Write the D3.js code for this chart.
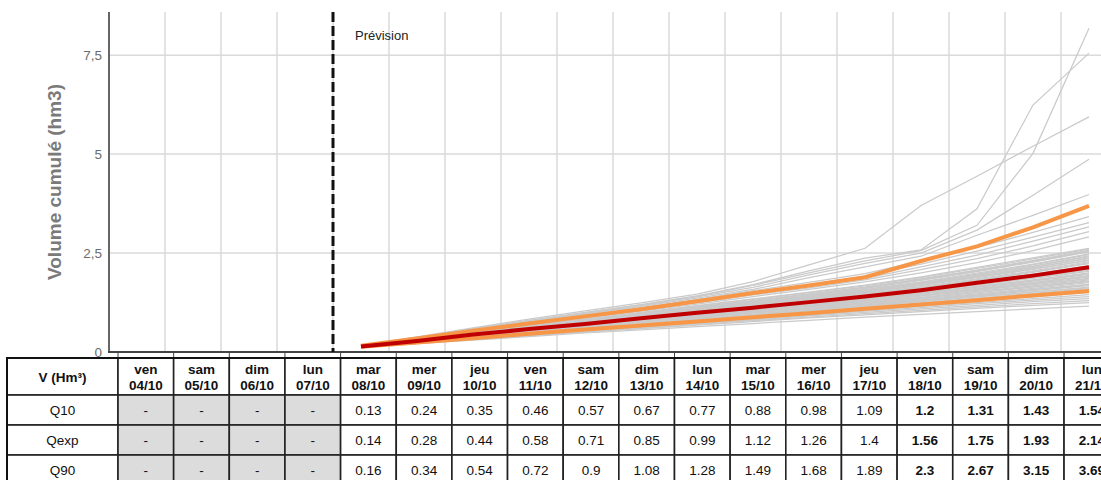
<!DOCTYPE html>
<html><head><meta charset="utf-8">
<script src="https://cdn.jsdelivr.net/npm/d3@7"></script>
<style>
html,body{margin:0;padding:0;background:#fff;overflow:hidden;}
svg{display:block;font-family:"Liberation Sans",Arial,sans-serif;}
</style></head><body>
<svg id="c" width="1101" height="480"></svg>
<script>
// ---------- DATA ----------
const dayNames = ["ven","sam","dim","lun","mar","mer","jeu","ven","sam","dim","lun","mar","mer","jeu","ven","sam","dim","lun"];
const dayDates = ["04/10","05/10","06/10","07/10","08/10","09/10","10/10","11/10","12/10","13/10","14/10","15/10","16/10","17/10","18/10","19/10","20/10","21/10"];
const firstForecastDay = 4;      // mar 08/10
const boldFromDay = 14;          // ven 18/10
const rowLabels = ["Q10","Qexp","Q90"];
const q10  = [0.13,0.24,0.35,0.46,0.57,0.67,0.77,0.88,0.98,1.09,1.2,1.31,1.43,1.54];
const qexp = [0.14,0.28,0.44,0.58,0.71,0.85,0.99,1.12,1.26,1.4,1.56,1.75,1.93,2.14];
const q90  = [0.16,0.34,0.54,0.72,0.9,1.08,1.28,1.49,1.68,1.89,2.3,2.67,3.15,3.69];
const yTicks = [0,2.5,5,7.5];
const yMax = 8.59;
const members = [
 [0.12,0.21,0.30,0.39,0.48,0.56,0.64,0.72,0.80,0.88,0.95,1.02,1.09,1.16],
 [0.12,0.22,0.32,0.41,0.50,0.59,0.68,0.77,0.86,0.94,1.02,1.10,1.18,1.25],
 [0.12,0.22,0.32,0.42,0.51,0.60,0.70,0.79,0.88,0.97,1.05,1.14,1.22,1.30],
 [0.13,0.23,0.33,0.43,0.53,0.62,0.72,0.81,0.91,1.00,1.09,1.18,1.27,1.35],
 [0.13,0.23,0.34,0.44,0.54,0.64,0.74,0.83,0.93,1.03,1.12,1.22,1.31,1.40],
 [0.13,0.23,0.34,0.45,0.55,0.65,0.75,0.85,0.95,1.05,1.15,1.25,1.35,1.45],
 [0.13,0.24,0.35,0.46,0.56,0.66,0.77,0.87,0.97,1.08,1.18,1.29,1.39,1.50],
 [0.13,0.24,0.35,0.46,0.57,0.67,0.78,0.89,0.99,1.10,1.21,1.33,1.44,1.56],
 [0.13,0.24,0.36,0.47,0.58,0.69,0.80,0.91,1.02,1.13,1.24,1.36,1.48,1.60],
 [0.13,0.25,0.36,0.48,0.59,0.70,0.82,0.93,1.05,1.16,1.28,1.40,1.52,1.62],
 [0.13,0.25,0.37,0.48,0.59,0.70,0.81,0.93,1.04,1.15,1.27,1.39,1.51,1.64],
 [0.14,0.25,0.37,0.49,0.60,0.72,0.83,0.94,1.06,1.17,1.29,1.42,1.55,1.68],
 [0.14,0.26,0.38,0.50,0.61,0.72,0.84,0.95,1.07,1.18,1.31,1.44,1.57,1.70],
 [0.14,0.26,0.38,0.50,0.62,0.73,0.85,0.96,1.08,1.19,1.32,1.45,1.58,1.71],
 [0.14,0.26,0.39,0.51,0.63,0.75,0.87,0.98,1.10,1.21,1.34,1.47,1.61,1.75],
 [0.14,0.26,0.39,0.52,0.64,0.76,0.88,1.00,1.12,1.23,1.36,1.50,1.64,1.78],
 [0.14,0.27,0.40,0.52,0.64,0.76,0.88,1.00,1.12,1.24,1.37,1.51,1.65,1.80],
 [0.14,0.27,0.40,0.52,0.65,0.77,0.89,1.01,1.13,1.25,1.38,1.53,1.67,1.82],
 [0.14,0.27,0.40,0.53,0.66,0.78,0.91,1.03,1.16,1.28,1.42,1.57,1.71,1.85],
 [0.14,0.27,0.41,0.53,0.66,0.78,0.91,1.03,1.15,1.27,1.41,1.56,1.70,1.86],
 [0.14,0.27,0.41,0.54,0.67,0.80,0.92,1.05,1.17,1.29,1.43,1.58,1.73,1.89],
 [0.14,0.28,0.42,0.54,0.67,0.80,0.93,1.05,1.18,1.30,1.44,1.59,1.75,1.91],
 [0.14,0.28,0.42,0.55,0.68,0.81,0.94,1.06,1.19,1.31,1.46,1.61,1.76,1.93],
 [0.14,0.28,0.42,0.56,0.69,0.82,0.95,1.08,1.21,1.33,1.48,1.63,1.79,1.96],
 [0.14,0.28,0.43,0.56,0.69,0.82,0.95,1.08,1.21,1.34,1.49,1.65,1.81,1.98],
 [0.14,0.28,0.43,0.56,0.70,0.83,0.96,1.09,1.22,1.35,1.50,1.66,1.82,2.00],
 [0.14,0.28,0.43,0.57,0.70,0.84,0.97,1.10,1.24,1.37,1.52,1.69,1.86,2.04],
 [0.14,0.28,0.43,0.57,0.71,0.84,0.98,1.11,1.24,1.38,1.53,1.70,1.88,2.06],
 [0.14,0.28,0.44,0.58,0.71,0.85,0.98,1.12,1.25,1.39,1.55,1.72,1.90,2.09],
 [0.14,0.29,0.44,0.58,0.72,0.86,1.00,1.14,1.28,1.42,1.58,1.76,1.94,2.12],
 [0.15,0.29,0.44,0.59,0.72,0.86,1.00,1.14,1.28,1.42,1.59,1.77,1.96,2.15],
 [0.15,0.29,0.45,0.59,0.73,0.87,1.01,1.15,1.29,1.43,1.60,1.78,1.97,2.18],
 [0.15,0.29,0.45,0.60,0.74,0.88,1.02,1.16,1.31,1.45,1.62,1.81,2.01,2.23],
 [0.15,0.30,0.45,0.60,0.74,0.88,1.03,1.17,1.32,1.46,1.63,1.83,2.03,2.25],
 [0.15,0.30,0.46,0.61,0.75,0.89,1.04,1.18,1.33,1.48,1.65,1.85,2.05,2.28],
 [0.15,0.30,0.46,0.61,0.76,0.91,1.06,1.21,1.36,1.51,1.69,1.90,2.10,2.31],
 [0.15,0.30,0.46,0.61,0.76,0.90,1.05,1.20,1.35,1.50,1.68,1.88,2.09,2.33],
 [0.15,0.30,0.47,0.62,0.77,0.92,1.07,1.22,1.37,1.52,1.71,1.91,2.13,2.36],
 [0.15,0.30,0.47,0.62,0.77,0.92,1.07,1.22,1.37,1.52,1.71,1.91,2.13,2.38],
 [0.15,0.31,0.47,0.63,0.78,0.93,1.08,1.23,1.38,1.54,1.73,1.94,2.16,2.41],
 [0.15,0.31,0.48,0.63,0.78,0.93,1.08,1.24,1.39,1.55,1.74,1.95,2.17,2.43],
 [0.15,0.31,0.48,0.64,0.79,0.94,1.09,1.25,1.41,1.57,1.76,1.97,2.20,2.46],
 [0.15,0.31,0.48,0.64,0.79,0.94,1.10,1.26,1.42,1.58,1.77,1.99,2.22,2.48],
 [0.15,0.31,0.49,0.65,0.80,0.96,1.12,1.28,1.44,1.61,1.81,2.03,2.27,2.53],
 [0.15,0.31,0.48,0.64,0.80,0.96,1.12,1.29,1.45,1.62,1.82,2.05,2.29,2.55],
 [0.16,0.32,0.49,0.65,0.81,0.97,1.13,1.29,1.46,1.63,1.84,2.06,2.30,2.56],
 [0.16,0.32,0.50,0.66,0.82,0.98,1.14,1.30,1.47,1.64,1.85,2.07,2.31,2.57],
 [0.16,0.32,0.50,0.67,0.83,0.99,1.16,1.33,1.50,1.67,1.88,2.11,2.35,2.60],
 [0.16,0.32,0.50,0.67,0.83,1.00,1.17,1.34,1.51,1.69,1.90,2.14,2.38,2.62],
 [0.16,0.33,0.52,0.69,0.86,1.03,1.21,1.40,1.58,1.77,2.00,2.26,2.56,2.91],
 [0.16,0.33,0.52,0.70,0.88,1.05,1.24,1.44,1.62,1.82,2.08,2.36,2.68,3.04],
 [0.16,0.34,0.53,0.71,0.89,1.07,1.26,1.47,1.66,1.86,2.15,2.45,2.80,3.16],
 [0.16,0.34,0.54,0.72,0.90,1.09,1.29,1.50,1.70,1.92,2.22,2.55,2.90,3.27],
 [0.17,0.35,0.55,0.74,0.93,1.12,1.33,1.55,1.76,1.98,2.30,2.64,3.02,3.42],
 [0.16,0.35,0.56,0.76,0.95,1.15,1.36,1.58,1.88,2.15,2.42,2.95,3.45,3.98],
 [0.16,0.36,0.57,0.77,0.97,1.17,1.39,1.63,1.95,2.24,2.50,3.08,3.96,4.87],
 [0.17,0.37,0.58,0.79,0.99,1.19,1.41,1.68,2.00,2.30,2.56,3.20,5.02,8.18],
 [0.17,0.37,0.59,0.80,1.00,1.20,1.42,1.70,2.05,2.37,2.58,3.62,6.24,7.55],
 [0.17,0.38,0.61,0.83,1.04,1.24,1.46,1.78,2.20,2.62,3.70,4.44,5.20,5.94]
];

// ---------- LAYOUT ----------
const svg = d3.select("#c");
const plotTop = 12, plotBottom = 352, plotLeft = 109;
const dayDate = i => new Date(2024, 9, 4 + i);
const x = d3.scaleTime().domain([dayDate(0), dayDate(18)]).range([plotLeft, 1117]);
const y = d3.scaleLinear().domain([0, yMax]).range([plotBottom, plotTop]);
const pointDate = i => new Date(2024, 9, 4 + firstForecastDay + i, 12);
const fr = d3.formatLocale({decimal: ",", thousands: " ", grouping: [3], currency: ["", "€"]});
const fmt = v => fr.format("~g")(v);

// grid
const gridDays = d3.timeDay.range(dayDate(1), dayDate(18));
svg.append("g").selectAll("line").data(gridDays).join("line")
  .attr("x1", d => x(d)).attr("x2", d => x(d))
  .attr("y1", plotTop).attr("y2", plotBottom)
  .attr("stroke", "#dadada").attr("stroke-width", 1.5);
svg.append("g").selectAll("line").data(yTicks.filter(v => v > 0)).join("line")
  .attr("x1", plotLeft).attr("x2", 1101)
  .attr("y1", d => y(d)).attr("y2", d => y(d))
  .attr("stroke", "#dadada").attr("stroke-width", 1.5);

// y axis labels
const yAxis = svg.append("g").attr("transform", `translate(${plotLeft},0)`)
  .call(d3.axisLeft(y).tickValues(yTicks).tickSize(0).tickPadding(7).tickFormat(fmt));
yAxis.select(".domain").remove();
yAxis.selectAll("text").attr("fill", "#6b6b6b").style("font-size", "13.5px")
  .style("font-family", '"Liberation Sans",Arial,sans-serif');

svg.append("text")
  .attr("transform", `translate(61,${(plotTop + plotBottom) / 2}) rotate(-90)`)
  .attr("text-anchor", "middle")
  .attr("fill", "#7a7a7a").style("font-size", "19px").style("font-weight", "bold")
  .text("Volume cumulé (hm3)");

// ensemble members
const line = d3.line().x((d, i) => x(pointDate(i))).y(d => y(d));
svg.append("g").selectAll("path").data(members).join("path")
  .attr("d", line).attr("fill", "none").attr("stroke", "#cacaca").attr("stroke-width", 1.25);

svg.append("path").attr("d", line(q10)).attr("fill", "none").attr("stroke", "#F79646").attr("stroke-width", 4);
svg.append("path").attr("d", line(q90)).attr("fill", "none").attr("stroke", "#F79646").attr("stroke-width", 4);
svg.append("path").attr("d", line(qexp)).attr("fill", "none").attr("stroke", "#C00000").attr("stroke-width", 4);

// axes lines
svg.append("line").attr("x1", plotLeft).attr("x2", plotLeft).attr("y1", plotTop).attr("y2", plotBottom)
  .attr("stroke", "#666").attr("stroke-width", 2);
svg.append("line").attr("x1", plotLeft - 1).attr("x2", 1101).attr("y1", plotBottom).attr("y2", plotBottom)
  .attr("stroke", "#444").attr("stroke-width", 2);

// forecast line
const fx = x(dayDate(firstForecastDay));
svg.append("line").attr("x1", fx).attr("x2", fx).attr("y1", plotTop).attr("y2", plotBottom)
  .attr("stroke", "#111").attr("stroke-width", 3).attr("stroke-dasharray", "10,4");
svg.append("text").attr("x", fx + 22).attr("y", 40).attr("fill", "#222")
  .style("font-size", "13px").text("Prévision");

// ---------- TABLE ----------
const col = d3.scaleBand().domain(d3.range(dayNames.length)).range([118, 118 + 18 * 55.65]);
const tTop = 358, headH = 37, rowH = 30, tLeft = 7;
// ticks between axis and table
svg.append("g").selectAll("line").data(d3.range(dayNames.length + 1)).join("line")
  .attr("x1", d => 118 + d * col.bandwidth()).attr("x2", d => 118 + d * col.bandwidth())
  .attr("y1", plotBottom).attr("y2", tTop).attr("stroke", "#444").attr("stroke-width", 1);

const table = svg.append("g").style("font-family", '"Liberation Sans",Arial,sans-serif');
// header
table.append("rect").attr("x", tLeft).attr("y", tTop).attr("width", 118 - tLeft).attr("height", headH)
  .attr("fill", "#fff").attr("stroke", "#222").attr("stroke-width", 1.6);
table.append("text").attr("x", (tLeft + 118) / 2).attr("y", tTop + headH / 2 + 5)
  .attr("text-anchor", "middle").style("font-size", "13.5px").style("font-weight", "bold").attr("fill", "#111")
  .text("V (Hm³)");
const hd = table.append("g").selectAll("g").data(d3.range(dayNames.length)).join("g");
hd.append("rect").attr("x", d => col(d)).attr("y", tTop).attr("width", col.bandwidth()).attr("height", headH)
  .attr("fill", "#fff").attr("stroke", "#222").attr("stroke-width", 1.6);
hd.append("text").attr("x", d => col(d) + col.bandwidth() / 2).attr("y", tTop + 16)
  .attr("text-anchor", "middle").style("font-size", "13.5px").style("font-weight", "bold").attr("fill", "#111")
  .text(d => dayNames[d]);
hd.append("text").attr("x", d => col(d) + col.bandwidth() / 2).attr("y", tTop + 32)
  .attr("text-anchor", "middle").style("font-size", "13.5px").style("font-weight", "bold").attr("fill", "#111")
  .text(d => dayDates[d]);

const rowsData = [q10, qexp, q90];
rowsData.forEach((vals, r) => {
  const ry = tTop + headH + r * rowH;
  table.append("rect").attr("x", tLeft).attr("y", ry).attr("width", 118 - tLeft).attr("height", rowH)
    .attr("fill", "#fff").attr("stroke", "#222").attr("stroke-width", 1.6);
  table.append("text").attr("x", (tLeft + 118) / 2).attr("y", ry + rowH / 2 + 5)
    .attr("text-anchor", "middle").style("font-size", "13.5px").attr("fill", "#111").text(rowLabels[r]);
  const g = table.append("g").selectAll("g").data(d3.range(dayNames.length)).join("g");
  g.append("rect").attr("x", d => col(d)).attr("y", ry).attr("width", col.bandwidth()).attr("height", rowH)
    .attr("fill", d => d < firstForecastDay ? "#dcdcdc" : "#fff").attr("stroke", "#222").attr("stroke-width", 1.6);
  g.append("text").attr("x", d => col(d) + col.bandwidth() / 2).attr("y", ry + rowH / 2 + 5)
    .attr("text-anchor", "middle").style("font-size", "13.5px").attr("fill", "#111")
    .style("font-weight", d => d >= boldFromDay ? "bold" : "normal")
    .text(d => d < firstForecastDay ? "-" : String(vals[d - firstForecastDay]));
});
table.append("rect").attr("x", tLeft).attr("y", tTop).attr("width", 118 + 18 * 55.65 - tLeft)
  .attr("height", headH + 3 * rowH).attr("fill", "none").attr("stroke", "#111").attr("stroke-width", 2);
</script>
</body></html>
